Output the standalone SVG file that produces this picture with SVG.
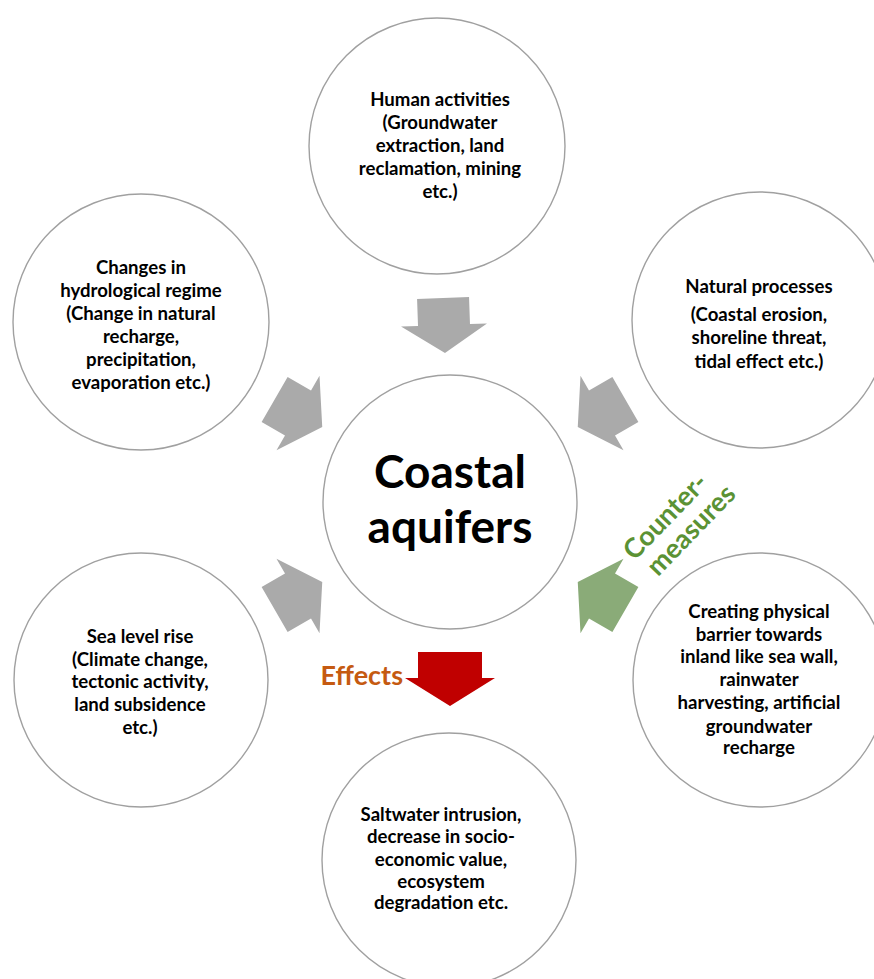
<svg xmlns="http://www.w3.org/2000/svg" width="874" height="979" viewBox="0 0 874 979">
  <style>
    .node circle { fill: #ffffff; stroke: #a0a0a0; stroke-width: 1.4; }
    .t { font-family: Lato, "Liberation Sans", sans-serif; font-weight: bold; font-size: 18.6px; fill: #000000; text-anchor: middle; }
    .big { font-family: Lato, "Liberation Sans", sans-serif; font-weight: bold; font-size: 46px; fill: #000000; text-anchor: middle; }
    .gray { fill: #aaaaaa; }
    .green { fill: #8aab78; }
    .red { fill: #c00000; }
    .effects { font-family: Lato, "Liberation Sans", sans-serif; font-weight: bold; font-size: 27px; fill: #c55a11; text-anchor: end; }
    .counter { font-family: Lato, "Liberation Sans", sans-serif; font-weight: bold; font-size: 27px; fill: #5b9234; text-anchor: middle; }
  </style>
  <defs>
    <polygon id="arr" points="-26,-27 26,-27 26,0 43,0 0,28 -43,0 -26,0"/>
  </defs>
  <rect width="874" height="979" fill="#ffffff"/>

  <g id="human" class="node">
    <circle cx="437" cy="146" r="128"/>
    <text class="t" x="440" y="106">Human activities</text>
    <text class="t" x="440" y="129">(Groundwater</text>
    <text class="t" x="440" y="152">extraction, land</text>
    <text class="t" x="440" y="175">reclamation, mining</text>
    <text class="t" x="440" y="198">etc.)</text>
  </g>

  <g id="hydro" class="node">
    <circle cx="141" cy="322" r="128"/>
    <text class="t" x="141" y="274">Changes in</text>
    <text class="t" x="141" y="297">hydrological regime</text>
    <text class="t" x="141" y="320">(Change in natural</text>
    <text class="t" x="141" y="343">recharge,</text>
    <text class="t" x="141" y="366">precipitation,</text>
    <text class="t" x="141" y="389">evaporation etc.)</text>
  </g>

  <g id="natural" class="node">
    <circle cx="760" cy="320" r="128"/>
    <text class="t" x="759" y="293">Natural processes</text>
    <text class="t" x="759" y="321">(Coastal erosion,</text>
    <text class="t" x="759" y="344">shoreline threat,</text>
    <text class="t" x="759" y="368">tidal effect etc.)</text>
  </g>

  <g id="center" class="node">
    <circle cx="450" cy="502" r="127"/>
    <text class="big" x="450" y="488">Coastal</text>
    <text class="big" x="450" y="543">aquifers</text>
  </g>

  <g id="sealevel" class="node">
    <circle cx="141" cy="680" r="127"/>
    <text class="t" x="140" y="643">Sea level rise</text>
    <text class="t" x="140" y="666">(Climate change,</text>
    <text class="t" x="140" y="688">tectonic activity,</text>
    <text class="t" x="140" y="711">land subsidence</text>
    <text class="t" x="140" y="734">etc.)</text>
  </g>

  <g id="measures" class="node">
    <circle cx="760" cy="680" r="127"/>
    <text class="t" x="759" y="618">Creating physical</text>
    <text class="t" x="759" y="641">barrier towards</text>
    <text class="t" x="759" y="663">inland like sea wall,</text>
    <text class="t" x="759" y="686">rainwater</text>
    <text class="t" x="759" y="709">harvesting, artificial</text>
    <text class="t" x="759" y="733">groundwater</text>
    <text class="t" x="759" y="754">recharge</text>
  </g>

  <g id="effects-node" class="node">
    <circle cx="449" cy="860" r="127"/>
    <text class="t" x="441" y="821">Saltwater intrusion,</text>
    <text class="t" x="441" y="843">decrease in socio-</text>
    <text class="t" x="441" y="866">economic value,</text>
    <text class="t" x="441" y="888">ecosystem</text>
    <text class="t" x="441" y="909">degradation etc.</text>
  </g>

  <g id="connectors">
    <use href="#arr" class="gray" transform="translate(444,325) rotate(-2)"/>
    <use href="#arr" class="gray" transform="translate(298,413) rotate(-60)"/>
    <use href="#arr" class="gray" transform="translate(602,413) rotate(60)"/>
    <use href="#arr" class="gray" transform="translate(298,596) rotate(-120)"/>
    <use href="#arr" class="green" transform="translate(602,596) rotate(120)"/>
    <polygon class="red" points="418,652 482,652 482,678 495,678 450,706 405,678 418,678"/>
    <text class="effects" x="403" y="685">Effects</text>
    <g transform="translate(679,524) rotate(-46)">
      <text class="counter" x="-4" y="-6">Counter-</text>
      <text class="counter" x="4" y="22">measures</text>
    </g>
  </g>
</svg>
